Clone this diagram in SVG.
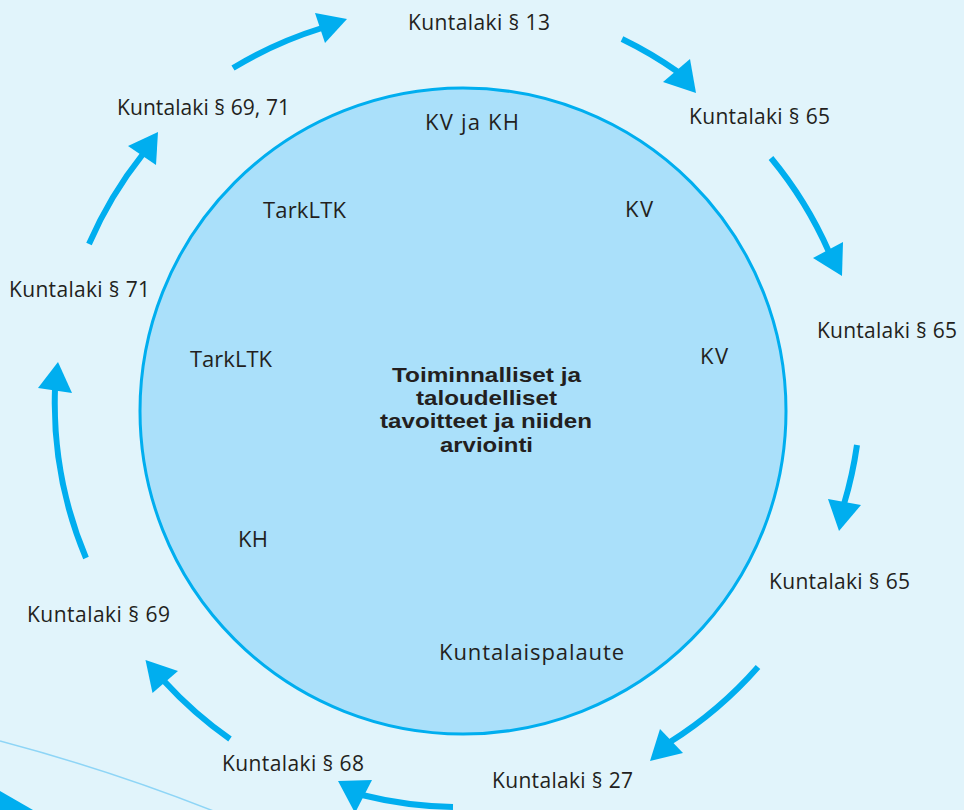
<svg xmlns="http://www.w3.org/2000/svg" width="964" height="810" viewBox="0 0 964 810">
<style>
.bg{fill:#e1f4fb}
.hub{fill:#aae0fa;stroke:#00aeef;stroke-width:3}
.lbl{font-family:"Open Sans","Liberation Sans",sans-serif;font-size:21px;fill:#231f20}
.in{font-family:"Open Sans","Liberation Sans",sans-serif;font-size:22px;fill:#231f20}
.ctr{font-family:"Liberation Sans","Open Sans",sans-serif;font-size:20.5px;font-weight:bold;fill:#231f20}
.shaft{fill:none;stroke:#00aeef;stroke-width:6}
.head{fill:#00aeef}
.deco{fill:none;stroke:#8ed5f6;stroke-width:1.5}
</style>
<rect class="bg" x="0" y="0" width="964" height="810"/>
<path class="deco" d="M0,741 Q110,770 216,812"/>
<polygon class="head" points="0,791 33,810 0,810"/>

<g id="hub">
<circle class="hub" cx="463" cy="411" r="323"/>
<text class="ctr" x="392" y="382" textLength="189" lengthAdjust="spacingAndGlyphs">Toiminnalliset ja</text>
<text class="ctr" x="416" y="405" textLength="141" lengthAdjust="spacingAndGlyphs">taloudelliset</text>
<text class="ctr" x="380" y="428" textLength="212" lengthAdjust="spacingAndGlyphs">tavoitteet ja niiden</text>
<text class="ctr" x="440" y="451.5" textLength="93" lengthAdjust="spacingAndGlyphs">arviointi</text>
</g>
<g id="in-kvkh"><text class="in" x="425" y="130" textLength="94" lengthAdjust="spacing">KV ja KH</text></g>
<g id="in-tark1"><text class="in" x="263" y="218" textLength="83" lengthAdjust="spacing">TarkLTK</text></g>
<g id="in-kv1"><text class="in" x="625" y="217" textLength="28" lengthAdjust="spacing">KV</text></g>
<g id="in-tark2"><text class="in" x="190" y="367" textLength="82" lengthAdjust="spacing">TarkLTK</text></g>
<g id="in-kv2"><text class="in" x="700" y="364" textLength="28" lengthAdjust="spacing">KV</text></g>
<g id="in-kh"><text class="in" x="238" y="547" textLength="30" lengthAdjust="spacing">KH</text></g>
<g id="in-palaute"><text class="in" x="439" y="660" textLength="185" lengthAdjust="spacing">Kuntalaispalaute</text></g>

<g id="l13"><text class="lbl" x="408" y="30" textLength="142" lengthAdjust="spacing">Kuntalaki § 13</text></g>
<g id="l65a"><text class="lbl" x="689" y="124" textLength="141" lengthAdjust="spacing">Kuntalaki § 65</text></g>
<g id="l65b"><text class="lbl" x="817" y="338" textLength="140" lengthAdjust="spacing">Kuntalaki § 65</text></g>
<g id="l65c"><text class="lbl" x="769" y="589" textLength="141" lengthAdjust="spacing">Kuntalaki § 65</text></g>
<g id="l27"><text class="lbl" x="492" y="788" textLength="141" lengthAdjust="spacing">Kuntalaki § 27</text></g>
<g id="l68"><text class="lbl" x="222" y="771" textLength="142" lengthAdjust="spacing">Kuntalaki § 68</text></g>
<g id="l69"><text class="lbl" x="27" y="622" textLength="143" lengthAdjust="spacing">Kuntalaki § 69</text></g>
<g id="l71"><text class="lbl" x="9" y="297" textLength="141" lengthAdjust="spacing">Kuntalaki § 71</text></g>
<g id="l6971"><text class="lbl" x="117" y="115" textLength="173" lengthAdjust="spacing">Kuntalaki § 69, 71</text></g>

<g id="connectors">
<path class="shaft" d="M233,68 A400,400 0 0 1 322,28"/>
<polygon class="head" points="315,13 347,19 325,43"/>
<path class="shaft" d="M622,39 A400,400 0 0 1 678,72"/>
<polygon class="head" points="663,82 690,59 696,93"/>
<path class="shaft" d="M771,158 A400,400 0 0 1 829,252"/>
<polygon class="head" points="813,258 843,242 842,276"/>
<path class="shaft" d="M857,445 A400,400 0 0 1 844,504"/>
<polygon class="head" points="828,499 861,505 839,531"/>
<path class="shaft" d="M758,667 A400,400 0 0 1 670,742"/>
<polygon class="head" points="660,729 683,753 650,761"/>
<path class="shaft" d="M453,807 A400,400 0 0 1 362,795"/>
<polygon class="head" points="338,781 372,780 355,813"/>
<path class="shaft" d="M230,739 A400,400 0 0 1 164,681"/>
<polygon class="head" points="145.5,660 178,671 152.5,693"/>
<path class="shaft" d="M86,558 A400,400 0 0 1 55,389"/>
<polygon class="head" points="38,388 58,362 72,393"/>
<path class="shaft" d="M89,244 A400,400 0 0 1 143,154"/>
<polygon class="head" points="128,146 158,132 156,165"/>
</g>
</svg>
